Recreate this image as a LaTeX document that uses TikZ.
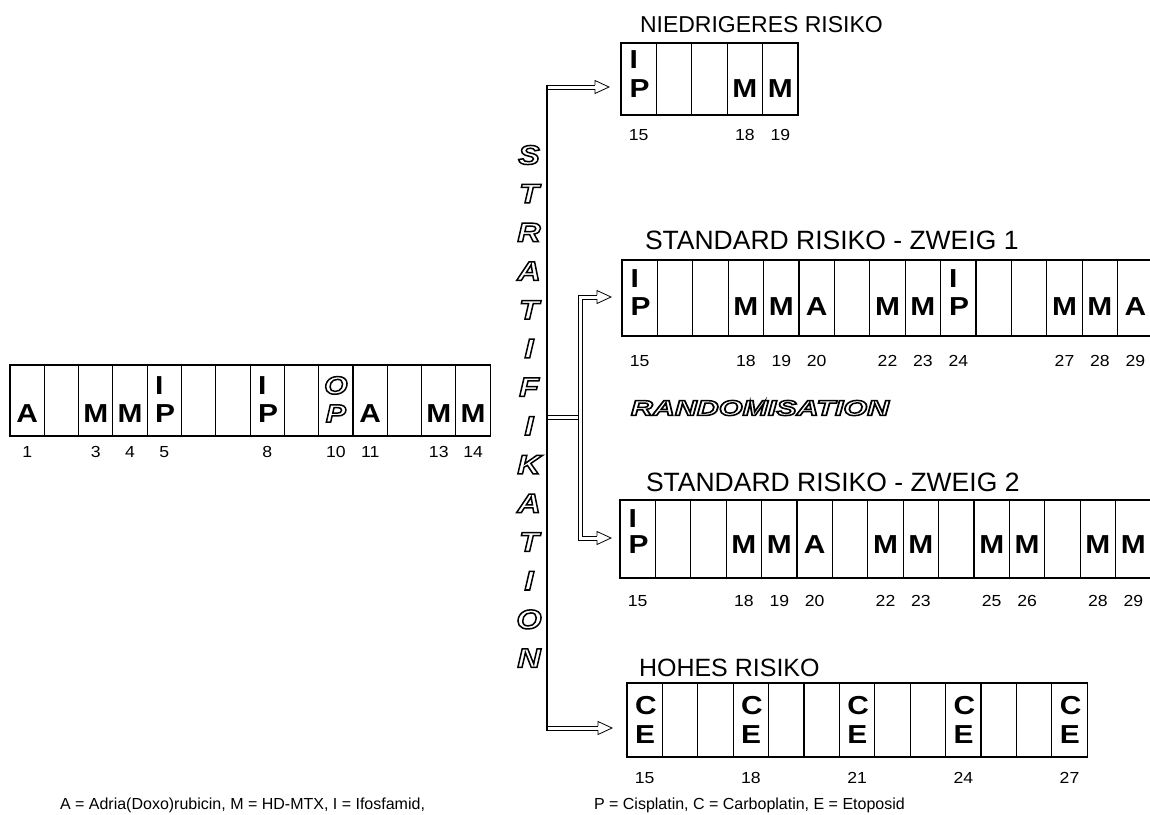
\documentclass[tikz,border=0pt]{standalone}
\usepackage{fontspec}
\setmainfont{Liberation Sans}
\newfontfamily\cellfont{Liberation Sans}[FakeStretch=1.15]
\newfontfamily\numfont{Liberation Sans}[FakeStretch=1.1]
\newfontfamily\wideital{Liberation Sans}[FakeStretch=1.2]
\usepackage{graphicx}
\usetikzlibrary{calc}
\newcommand{\hol}[1]{\special{pdf:literal direct 1 Tr 1.5 w}#1\special{pdf:literal direct 0 Tr}}
\newcommand{\csgl}[4]{\node[letter,anchor=base] (#4) at ($(#1.north west)+({(#2-0.5)*\cellw},\rowb)$) {#3};}
\newcommand{\cstk}[5]{\node[letter,anchor=base west] (#5a) at ($(#1.north west)+({(#2-1)*\cellw+\stackx},\rowa)$) {#3};
  \node[letter,anchor=base west] (#5b) at ($(#1.north west)+({(#2-1)*\cellw+\stackx},\rowb)$) {#4};}
\newcommand{\clbl}[4]{\node[num] (#4) at ($(#1.south west)+({(#2-0.5)*\cellw},\lbly)$) {#3};}
\newcommand{\cgrid}[4]{%
  \node[seqframe=\boxh, minimum width={#4*\cellw}] (#1) at (#2,#3) {};
  \pgfmathtruncatemacro{\lastk}{#4-1}%
  \foreach \k in {1,...,\lastk}{\draw[cellline] ($(#1.north west)+(\k*\cellw,0)$) -- ($(#1.south west)+(\k*\cellw,0)$);}}
% hollow arrow head, tip at #1, pointing right
\newcommand{\hhead}[1]{\draw[headst] ($(#1)+(-14,-2.1)$) -- ($(#1)+(-14,-6.5)$) -- (#1) -- ($(#1)+(-14,6.5)$) -- ($(#1)+(-14,2.1)$);}
% double shaft (two parallel lines) between two points on the same height
\newcommand{\hshaft}[2]{%
  \draw[shaftline] ($(#1)+(0,-2.1)$) -- ($(#2)+(0,-2.1)$);
  \draw[shaftline] ($(#1)+(0,2.1)$) -- ($(#2)+(0,2.1)$);}
\begin{document}
\begin{tikzpicture}[x=1pt,y=-1pt,
  every node/.style={inner sep=0pt,outer sep=0pt},
  seqframe/.style={draw,line width=1.1pt,anchor=north west,minimum height=#1},
  cellline/.style={line width=1.1pt},
  letter/.style={font=\cellfont\fontsize{26}{26}\selectfont\bfseries},
  holletter/.style={font=\wideital\fontsize{27}{27}\selectfont\bfseries\itshape},
  titletext/.style={font=\fontsize{26.5}{26.5}\selectfont,anchor=base west},
  num/.style={font=\numfont\fontsize{16}{16}\selectfont,anchor=base},
  shaftline/.style={line width=0.8pt,line cap=butt},
  spineline/.style={line width=1.2pt},
  headst/.style={line width=0.8pt,fill=white,line join=miter},
  foot/.style={font=\fontsize{16}{16}\selectfont,anchor=base west}]
\useasboundingbox (0,0) rectangle (1150,814);
\fill[white] (0,0) rectangle (1150,814);
\clip (0,0) rectangle (1150,814);

% ---------- left sequence ----------
\def\cellw{34.3}\def\boxh{71}\def\rowa{29}\def\rowb{57}\def\stackx{8}\def\lbly{21}
\cgrid{L}{10}{365}{14}
\csgl{L}{1}{A}{L1}
\csgl{L}{3}{M}{L3}
\csgl{L}{4}{M}{L4}
\cstk{L}{5}{I}{P}{L5}
\cstk{L}{8}{I}{P}{L8}
\node[holletter,anchor=base,font=\wideital\fontsize{25}{25}\selectfont\bfseries\itshape] (L10a) at ($(L.north west)+({9.5*\cellw},\rowa)$) {\hol{O}};
\node[holletter,anchor=base,font=\wideital\fontsize{25}{25}\selectfont\bfseries\itshape] (L10b) at ($(L.north west)+({9.5*\cellw},\rowb)$) {\hol{P}};
\csgl{L}{11}{A}{L11}
\csgl{L}{13}{M}{L13}
\csgl{L}{14}{M}{L14}
\clbl{L}{1}{1}{nL1}
\clbl{L}{3}{3}{nL3}
\clbl{L}{4}{4}{nL4}
\clbl{L}{5}{5}{nL5}
\clbl{L}{8}{8}{nL8}
\clbl{L}{10}{10}{nL10}
\clbl{L}{11}{11}{nL11}
\clbl{L}{13}{13}{nL13}
\clbl{L}{14}{14}{nL14}

% ---------- STRATIFIKATION ----------
\foreach \ch [count=\i from 0] in {S,T,R,A,T,I,F,I,K,A,T,I,O,N}
  \node[holletter] (st\i) at (529,{155+\i*38.7}) {\hol{\ch}};

% ---------- low risk ----------
\def\cellw{35.4}\def\boxh{72}\def\rowa{25}\def\rowb{54}\def\stackx{8.5}\def\lbly{25}
\node[titletext,font=\fontsize{23}{23}\selectfont] (tN) at (640,32) {NIEDRIGERES RISIKO};
\cgrid{N}{621}{43}{5}
\cstk{N}{1}{I}{P}{N1}
\csgl{N}{4}{M}{N4}
\csgl{N}{5}{M}{N5}
\clbl{N}{1}{15}{nN1}
\clbl{N}{4}{18}{nN4}
\clbl{N}{5}{19}{nN5}

% ---------- standard 1 ----------
\def\boxh{76}\def\rowa{27}\def\rowb{55}\def\lbly{30}
\node[titletext] (tS1) at (645,249) {STANDARD RISIKO - ZWEIG 1};
\cgrid{SA}{622}{260}{16}
\cstk{SA}{1}{I}{P}{SA1}
\csgl{SA}{4}{M}{SA4}
\csgl{SA}{5}{M}{SA5}
\csgl{SA}{6}{A}{SA6}
\csgl{SA}{8}{M}{SA8}
\csgl{SA}{9}{M}{SA9}
\cstk{SA}{10}{I}{P}{SA10}
\csgl{SA}{13}{M}{SA13}
\csgl{SA}{14}{M}{SA14}
\csgl{SA}{15}{A}{SA15}
\clbl{SA}{1}{15}{nSA1}
\clbl{SA}{4}{18}{nSA4}
\clbl{SA}{5}{19}{nSA5}
\clbl{SA}{6}{20}{nSA6}
\clbl{SA}{8}{22}{nSA8}
\clbl{SA}{9}{23}{nSA9}
\clbl{SA}{10}{24}{nSA10}
\clbl{SA}{13}{27}{nSA13}
\clbl{SA}{14}{28}{nSA14}
\clbl{SA}{15}{29}{nSA15}

% ---------- RANDOMISATION ----------
\node[font=\wideital\fontsize{21.5}{21.5}\selectfont\bfseries\itshape] (rand) at (760,408) {\scalebox{1.18}[1]{\hol{RANDOMISATION}}};

% ---------- standard 2 ----------
\def\boxh{78}\def\rowa{27}\def\rowb{53}\def\lbly{28}
\node[titletext] (tS2) at (646,491) {STANDARD RISIKO - ZWEIG 2};
\cgrid{SB}{620}{500}{16}
\cstk{SB}{1}{I}{P}{SB1}
\csgl{SB}{4}{M}{SB4}
\csgl{SB}{5}{M}{SB5}
\csgl{SB}{6}{A}{SB6}
\csgl{SB}{8}{M}{SB8}
\csgl{SB}{9}{M}{SB9}
\csgl{SB}{11}{M}{SB11}
\csgl{SB}{12}{M}{SB12}
\csgl{SB}{14}{M}{SB14}
\csgl{SB}{15}{M}{SB15}
\clbl{SB}{1}{15}{nSB1}
\clbl{SB}{4}{18}{nSB4}
\clbl{SB}{5}{19}{nSB5}
\clbl{SB}{6}{20}{nSB6}
\clbl{SB}{8}{22}{nSB8}
\clbl{SB}{9}{23}{nSB9}
\clbl{SB}{11}{25}{nSB11}
\clbl{SB}{12}{26}{nSB12}
\clbl{SB}{14}{28}{nSB14}
\clbl{SB}{15}{29}{nSB15}

% ---------- high risk ----------
\def\boxh{74}\def\rowa{31}\def\rowb{60}\def\stackx{8}\def\lbly{26}
\node[titletext,font=\fontsize{25}{25}\selectfont] (tH) at (639,676) {HOHES RISIKO};
\cgrid{H}{627}{683}{13}
\cstk{H}{1}{C}{E}{H1}
\cstk{H}{4}{C}{E}{H4}
\cstk{H}{7}{C}{E}{H7}
\cstk{H}{10}{C}{E}{H10}
\cstk{H}{13}{C}{E}{H13}
\clbl{H}{1}{15}{nH1}
\clbl{H}{4}{18}{nH4}
\clbl{H}{7}{21}{nH7}
\clbl{H}{10}{24}{nH10}
\clbl{H}{13}{27}{nH13}

% ---------- connectors ----------
\coordinate (spT) at (547,87);
\coordinate (spB) at (547,728);
\coordinate (spTe) at (547,84.5);
\coordinate (spBe) at (547,730.5);
\coordinate (spJ) at (547,417);
\coordinate (rT) at (580,297);
\coordinate (rB) at (580,538);
\coordinate (rJ) at (577.5,417);
\coordinate (tipN) at (609,87);
\coordinate (tipSA) at (611,297);
\coordinate (tipSB) at (611,538);
\coordinate (tipH) at (612,728);
\coordinate (endN) at ($(tipN)+(-12,0)$);
\coordinate (endSA) at ($(tipSA)+(-12,0)$);
\coordinate (endSB) at ($(tipSB)+(-12,0)$);
\coordinate (endH) at ($(tipH)+(-12,0)$);

\hshaft{spT}{endN}
\hshaft{spB}{endH}
\draw[spineline] (spTe) -- (spBe);
\hshaft{spJ}{rJ}
\draw[shaftline,line join=miter] ($(endSA)+(0,-2.1)$) -- ($(rT)+(-2.1,-2.1)$) -- ($(rB)+(-2.1,2.1)$) -- ($(endSB)+(0,2.1)$);
\draw[shaftline,line join=miter] ($(endSA)+(0,2.1)$) -- ($(rT)+(2.1,2.1)$) -- ($(rB)+(2.1,-2.1)$) -- ($(endSB)+(0,-2.1)$);
\hhead{tipN}
\hhead{tipSA}
\hhead{tipSB}
\hhead{tipH}

% ---------- footer ----------
\node[foot] (f1) at (60,809) {A = Adria(Doxo)rubicin, M = HD-MTX, I = Ifosfamid,};
\node[foot] (f2) at (594,809) {P = Cisplatin, C = Carboplatin, E = Etoposid};
\end{tikzpicture}
\end{document}
